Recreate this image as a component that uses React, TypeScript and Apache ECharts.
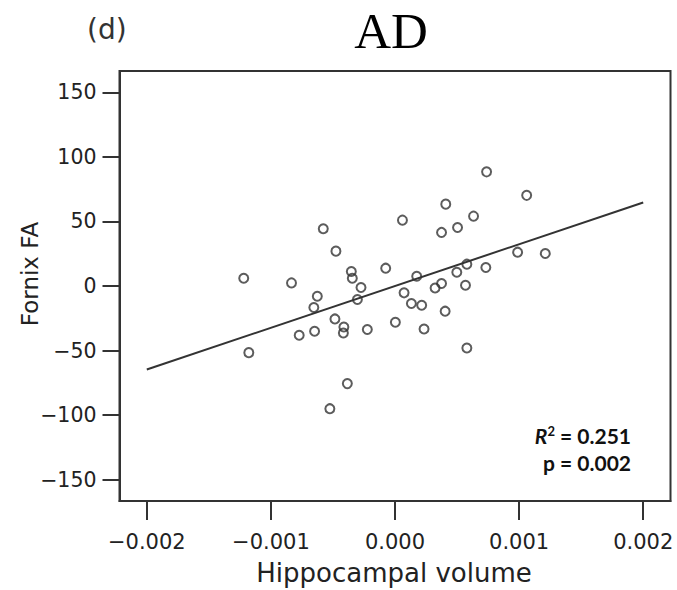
import React, { useEffect, useRef } from 'react';
import * as echarts from 'echarts';

// Hippocampal volume (x) and Fornix FA (y) residuals
const hippocampalVolume = [
  -0.001219, -0.001178, -0.000834, -0.000772, -0.000648, -0.000626, -0.000654,
  -0.000578, -0.000476, -0.000484, -0.000412, -0.000416, -0.000352, -0.000344,
  -0.000274, -0.000303, -0.000223, -0.000384, -0.000525, -0.000075, 0.00006,
  0.000003, 0.000073, 0.000132, 0.000215, 0.000175, 0.000234, 0.000409,
  0.000375, 0.000323, 0.000375, 0.000404, 0.000738, 0.001061, 0.000633,
  0.000504, 0.000988, 0.001211, 0.000579, 0.000498, 0.000732, 0.000568, 0.000579,
];
const fornixFA = [
  6.0, -51.6, 2.4, -38.1, -35.0, -7.9, -16.7,
  44.3, 27.0, -25.5, -31.7, -36.4, 11.2, 6.0,
  -1.2, -10.5, -33.7, -75.6, -95.0, 13.8, 51.0,
  -28.1, -5.3, -13.6, -14.9, 7.6, -33.3, 63.4,
  41.5, -1.5, 1.9, -19.5, 88.4, 70.2, 54.1,
  45.3, 26.2, 25.2, 16.9, 10.7, 14.3, 0.6, -48.0,
];

// Regression line end points
const fitX = [-0.002, 0.002];
const fitY = [-64.7, 64.7];

const xTicks = [-0.002, -0.001, 0, 0.001, 0.002];
const xTickLabels = ['\u22120.002', '\u22120.001', '0.000', '0.001', '0.002'];
const yTicks = [-150, -100, -50, 0, 50, 100, 150];
const yTickLabels = ['\u2212150', '\u2212100', '\u221250', '0', '50', '100', '150'];

const panelLabel = '(d)';
const titleText = 'AD';
const xName = 'Hippocampal volume';
const yName = 'Fornix FA';
const r2Text = '0.251';
const pText = '0.002';

const labelFor = (ticks: number[], labels: string[]) => (v: number) => {
  let best = 0;
  for (let i = 1; i < ticks.length; i++) {
    if (Math.abs(ticks[i] - v) < Math.abs(ticks[best] - v)) best = i;
  }
  return labels[best];
};

export default function App() {
  const ref = useRef<HTMLDivElement>(null);
  useEffect(() => {
    document.body.style.margin = '0';
    if (!ref.current) return;
    const chart = echarts.init(ref.current, undefined, { renderer: 'svg' });
    const points = hippocampalVolume.map((x, i) => [x, fornixFA[i]]);
    const fit = fitX.map((x, i) => [x, fitY[i]]);
    const ink = '#222';
    chart.setOption({
      animation: false,
      backgroundColor: '#fff',
      grid: {
        left: 119.5,
        top: 71,
        width: 551,
        height: 430,
        show: true,
        borderColor: '#333',
        borderWidth: 2,
        backgroundColor: '#fff',
      },
      xAxis: {
        type: 'value',
        min: -0.00222,
        max: 0.00222,
        splitLine: { show: false },
        axisLine: { show: true, onZero: false, lineStyle: { color: '#333', width: 2 } },
        axisTick: { show: true, customValues: xTicks, length: 19, lineStyle: { color: '#333', width: 2 } },
        axisLabel: {
          customValues: xTicks,
          formatter: labelFor(xTicks, xTickLabels),
          margin: 30,
          fontSize: 21,
          fontFamily: 'DejaVu Sans',
          color: ink,
        },
      },
      yAxis: {
        type: 'value',
        min: -166.5,
        max: 166.5,
        splitLine: { show: false },
        axisLine: { show: true, onZero: false, lineStyle: { color: '#333', width: 2 } },
        axisTick: { show: true, customValues: yTicks, length: 17, lineStyle: { color: '#333', width: 2 } },
        axisLabel: {
          customValues: yTicks,
          formatter: labelFor(yTicks, yTickLabels),
          margin: 23,
          fontSize: 20.5,
          fontFamily: 'DejaVu Sans',
          color: ink,
        },
      },
      series: [
        {
          type: 'scatter',
          data: points,
          symbol: 'circle',
          symbolSize: 9,
          itemStyle: { color: 'rgba(0,0,0,0)', borderColor: '#333', borderWidth: 2 },
          z: 3,
        },
        {
          type: 'line',
          data: fit,
          symbol: 'none',
          lineStyle: { color: '#333', width: 2 },
          z: 2,
        },
      ],
      graphic: [
        {
          type: 'text',
          x: 87,
          y: 29,
          style: {
            text: panelLabel,
            font: '28px "DejaVu Sans"',
            fill: '#333',
            align: 'left',
            verticalAlign: 'middle',
          },
        },
        {
          type: 'text',
          x: 391,
          y: 31,
          style: {
            text: titleText,
            font: '51px "Liberation Serif"',
            fill: '#000',
            align: 'center',
            verticalAlign: 'middle',
          },
        },
        {
          type: 'text',
          x: 30,
          y: 274,
          rotation: Math.PI / 2,
          style: {
            text: yName,
            font: '23px "DejaVu Sans"',
            fill: ink,
            align: 'center',
            verticalAlign: 'middle',
          },
        },
        {
          type: 'text',
          x: 394,
          y: 573,
          style: {
            text: xName,
            font: '26px "DejaVu Sans"',
            fill: ink,
            align: 'center',
            verticalAlign: 'middle',
          },
        },
        {
          type: 'text',
          x: 631,
          y: 435,
          style: {
            text: '{i|R}{s|2}{n| = ' + r2Text + '}',
            align: 'right',
            verticalAlign: 'middle',
            rich: {
              i: { fontFamily: 'Lato', fontWeight: 'bold', fontStyle: 'italic', fontSize: 21, fill: '#111' },
              s: { fontFamily: 'Lato', fontWeight: 'bold', fontSize: 13, fill: '#111', verticalAlign: 'top' },
              n: { fontFamily: 'Lato', fontWeight: 'bold', fontSize: 21, fill: '#111' },
            },
          },
        },
        {
          type: 'text',
          x: 631,
          y: 462,
          style: {
            text: 'p = ' + pText,
            font: 'bold 21px Lato',
            fill: '#111',
            align: 'right',
            verticalAlign: 'middle',
          },
        },
      ],
    });
    return () => chart.dispose();
  }, []);
  return <div ref={ref} style={{ width: 677, height: 590 }} />;
}
